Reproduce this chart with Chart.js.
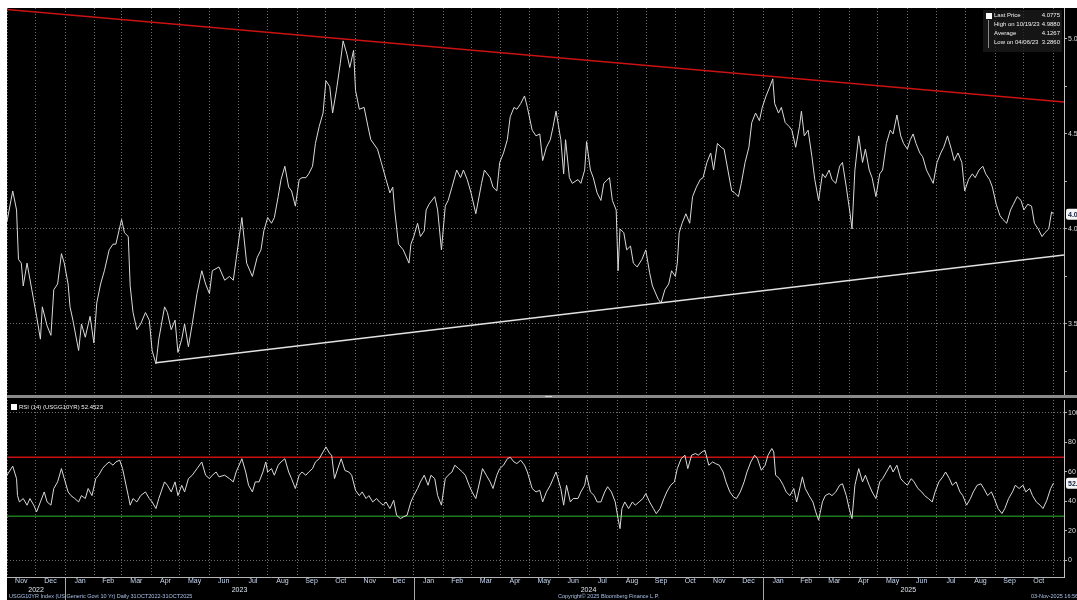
<!DOCTYPE html>
<html>
<head>
<meta charset="utf-8">
<script src="https://cdn.jsdelivr.net/npm/chart.js@4.4.1/dist/chart.umd.min.js"></script>
<style>
  html, body { margin: 0; padding: 0; background: #fff; overflow: hidden; }
  body { width: 1077px; height: 600px; position: relative; font-family: "Liberation Sans", Arial, sans-serif; }
  #panel { position: absolute; left: 7px; top: 8px; width: 1070px; height: 592px; background: #000; }
  #priceWrap { position: absolute; left: 7px; top: 8px; }
  #rsiWrap { position: absolute; left: 7px; top: 398px; }
  #sep { position: absolute; left: 7px; top: 395px; width: 1070px; height: 3px; background: #8a8a8a; }
  #sepHandle { position: absolute; left: 545px; top: 396px; width: 7px; height: 1px; background: #d0d0d0; }
  .legend { position: absolute; left: 983px; top: 10px; width: 79px; height: 42px; background: rgba(28,28,28,0.75); color: #f0f0f0; font-size: 6px; line-height: 9px; font-family: "Liberation Sans Narrow", "Liberation Sans", Arial, sans-serif; }
  .legend .row { position: absolute; left: 11px; right: 2px; white-space: nowrap; }
  .legend .val { position: absolute; right: 0; }
  .legend .sq { position: absolute; left: 3px; top: 3px; width: 6px; height: 6px; background: #fff; }
  .legend .tree { position: absolute; left: 5px; top: 10px; width: 1px; height: 28px; background: #888; }
  .rsiLegend { position: absolute; left: 11px; top: 404px; color: #f0f0f0; font-size: 6px; white-space: nowrap; font-family: "Liberation Sans Narrow", "Liberation Sans", Arial, sans-serif; }
  .rsiLegend span { display: inline-block; width: 6px; height: 6px; background: #fff; margin-right: 2px; vertical-align: -1px; }
  .foot { position: absolute; top: 593px; font-size: 5.5px; color: #a9c1e8; white-space: nowrap; }
</style>
</head>
<body>
<div id="panel"></div>
<div id="priceWrap"><canvas id="priceChart" width="1090" height="387"></canvas></div>
<div id="sep"></div>
<div id="sepHandle"></div>
<div id="rsiWrap"><canvas id="rsiChart" width="1090" height="202"></canvas></div>

<div class="legend">
  <div class="sq"></div>
  <div class="tree"></div>
  <div class="row" style="top:1px">Last Price<span class="val">4.0775</span></div>
  <div class="row" style="top:10px">High on 10/19/23<span class="val">4.9880</span></div>
  <div class="row" style="top:19px">Average<span class="val">4.1267</span></div>
  <div class="row" style="top:28px">Low on 04/06/23<span class="val">3.2860</span></div>
</div>
<div class="rsiLegend"><span></span>RSI (14) (USGG10YR) 52.4523</div>

<div class="foot" style="left:9px">USGG10YR Index (US Generic Govt 10 Yr) Daily 31OCT2022-31OCT2025</div>
<div class="foot" style="left:558px">Copyright© 2025 Bloomberg Finance L.P.</div>
<div class="foot" style="left:1031px">03-Nov-2025 16:56:01</div>

<script>
// Days are counted from 1 Nov 2022
const monthStart = [0, 30, 61, 92, 120, 151, 181, 212, 242, 273, 304, 334,
    365, 395, 426, 457, 486, 517, 547, 578, 608, 639, 670, 700,
    731, 761, 792, 823, 851, 882, 912, 943, 973, 1004, 1035, 1065, 1096];
const monthLabel = ['Nov', 'Dec', 'Jan', 'Feb', 'Mar', 'Apr', 'May', 'Jun', 'Jul', 'Aug', 'Sep', 'Oct',
    'Nov', 'Dec', 'Jan', 'Feb', 'Mar', 'Apr', 'May', 'Jun', 'Jul', 'Aug', 'Sep', 'Oct',
    'Nov', 'Dec', 'Jan', 'Feb', 'Mar', 'Apr', 'May', 'Jun', 'Jul', 'Aug', 'Sep', 'Oct'];
const yearLabel = ['2022', '2023', '2024', '2025'];
const yearStart = [0, 61, 426, 792];
const lastDay = 1096;

const priceTicks = [3.25, 3.5, 3.75, 4.0, 4.25, 4.5, 4.75, 5.0];
const priceMajor = [3.5, 4.0, 4.5, 5.0];
const priceGrid = [3.5, 4.0];
const rsiTicks = [0, 20, 40, 60, 80, 100];
const rsiGrid = [0, 100];

// US 10Y yield
const priceDay = [0, 6, 10, 12, 15, 17, 21, 26, 31, 35, 37, 42, 46, 49, 53, 57, 60, 64, 66, 69,
    75, 78, 82, 87, 91, 94, 98, 102, 107, 111, 114, 120, 123, 127, 129, 132, 136, 140, 145, 149,
    152, 156, 159, 165, 168, 172, 176, 179, 183, 186, 190, 194, 199, 204, 208, 212, 215, 222, 228, 233,
    237, 240, 246, 251, 257, 262, 266, 269, 273, 277, 280, 284, 287, 291, 295, 298, 302, 306, 309, 313,
    316, 320, 323, 327, 331, 334, 338, 341, 345, 349, 352, 356, 359, 363, 365, 369, 374, 378, 381, 388,
    392, 397, 401, 404, 406, 410, 415, 421, 423, 426, 430, 433, 437, 439, 442, 448, 451, 455, 459, 462,
    466, 471, 475, 478, 482, 486, 491, 497, 500, 506, 509, 513, 516, 520, 524, 527, 531, 534, 538, 542,
    545, 550, 554, 558, 561, 565, 569, 572, 575, 580, 583, 585, 589, 592, 598, 601, 605, 607, 611, 614,
    618, 622, 625, 631, 634, 638, 640, 642, 646, 649, 653, 656, 660, 665, 669, 673, 676, 682, 685, 689,
    693, 696, 700, 702, 704, 707, 711, 715, 718, 722, 726, 729, 733, 737, 740, 744, 748, 751, 755, 759,
    762, 766, 769, 773, 777, 780, 784, 788, 791, 795, 799, 802, 804, 808, 811, 815, 819, 822, 826, 830,
    832, 835, 839, 843, 846, 850, 854, 857, 861, 864, 868, 872, 875, 879, 883, 885, 888, 892, 896, 899,
    903, 906, 910, 914, 917, 921, 925, 928, 932, 936, 939, 943, 946, 949, 952, 956, 959, 963, 967, 970,
    974, 978, 981, 985, 989, 992, 996, 1000, 1003, 1007, 1011, 1014, 1018, 1022, 1025, 1029, 1032, 1036, 1040, 1043,
    1047, 1051, 1054, 1058, 1062, 1065, 1069, 1073, 1076, 1080, 1084, 1087, 1091, 1094, 1096];
const priceVal = [4.04, 4.20, 4.10, 3.84, 3.82, 3.70, 3.82, 3.68, 3.54, 3.42, 3.59, 3.49, 3.44, 3.68, 3.71, 3.87, 3.82, 3.71, 3.59, 3.52,
    3.36, 3.50, 3.43, 3.54, 3.40, 3.61, 3.71, 3.78, 3.89, 3.92, 3.92, 4.05, 3.98, 3.96, 3.70, 3.56, 3.47, 3.50, 3.56, 3.52,
    3.36, 3.29, 3.42, 3.59, 3.56, 3.47, 3.52, 3.35, 3.42, 3.50, 3.38, 3.50, 3.66, 3.78, 3.71, 3.66, 3.78, 3.80, 3.73, 3.75,
    3.73, 3.84, 4.06, 3.82, 3.75, 3.85, 3.89, 3.99, 4.06, 4.03, 4.06, 4.17, 4.26, 4.33, 4.22, 4.20, 4.12, 4.26, 4.27, 4.27,
    4.29, 4.33, 4.45, 4.54, 4.61, 4.78, 4.75, 4.61, 4.73, 4.87, 4.99, 4.92, 4.85, 4.94, 4.73, 4.63, 4.64, 4.54, 4.47, 4.42,
    4.35, 4.26, 4.19, 4.22, 4.10, 3.92, 3.89, 3.82, 3.92, 3.96, 4.03, 3.96, 3.99, 4.10, 4.13, 4.17, 4.10, 3.89, 4.12, 4.15,
    4.22, 4.31, 4.27, 4.31, 4.26, 4.19, 4.08, 4.24, 4.31, 4.27, 4.22, 4.20, 4.35, 4.40, 4.47, 4.59, 4.64, 4.63, 4.66, 4.70,
    4.64, 4.52, 4.49, 4.50, 4.36, 4.43, 4.47, 4.54, 4.62, 4.47, 4.29, 4.47, 4.27, 4.24, 4.26, 4.24, 4.31, 4.46, 4.31, 4.27,
    4.19, 4.15, 4.24, 4.27, 4.15, 4.10, 3.78, 4.00, 3.98, 3.89, 3.91, 3.82, 3.80, 3.84, 3.89, 3.77, 3.70, 3.63, 3.61, 3.68,
    3.71, 3.78, 3.75, 3.82, 3.98, 4.03, 4.08, 4.03, 4.17, 4.22, 4.26, 4.27, 4.35, 4.40, 4.31, 4.45, 4.43, 4.42, 4.31, 4.20,
    4.19, 4.17, 4.24, 4.35, 4.43, 4.56, 4.61, 4.57, 4.64, 4.70, 4.75, 4.79, 4.66, 4.61, 4.64, 4.56, 4.54, 4.52, 4.43, 4.54,
    4.62, 4.49, 4.52, 4.38, 4.26, 4.15, 4.29, 4.27, 4.31, 4.26, 4.24, 4.33, 4.35, 4.22, 4.08, 4.00, 4.31, 4.49, 4.35, 4.42,
    4.31, 4.27, 4.17, 4.29, 4.31, 4.45, 4.52, 4.50, 4.60, 4.49, 4.45, 4.42, 4.47, 4.50, 4.45, 4.40, 4.38, 4.31, 4.27, 4.24,
    4.35, 4.40, 4.43, 4.49, 4.42, 4.36, 4.40, 4.35, 4.20, 4.26, 4.29, 4.27, 4.31, 4.33, 4.29, 4.26, 4.22, 4.13, 4.07, 4.05,
    4.03, 4.10, 4.13, 4.17, 4.15, 4.10, 4.13, 4.12, 4.03, 4.00, 3.96, 3.98, 4.00, 4.09, 4.0775];

// trend lines drawn on the price panel
const resistDay = [0, 1107];
const resistVal = [5.155, 4.668];
const supportDay = [156, 1107];
const supportVal = [3.296, 3.863];

// RSI (14)
const rsiDay = [0, 6, 10, 11, 13, 17, 21, 24, 28, 31, 35, 39, 42, 46, 49, 53, 57, 60, 64, 67,
    71, 75, 78, 82, 85, 89, 93, 96, 100, 103, 107, 111, 114, 118, 121, 127, 129, 132, 136, 140,
    145, 149, 152, 156, 159, 165, 168, 172, 176, 179, 183, 186, 190, 194, 199, 204, 208, 212, 215, 219,
    222, 228, 233, 237, 240, 246, 250, 253, 257, 260, 264, 268, 271, 273, 277, 280, 284, 287, 291, 295,
    298, 302, 306, 309, 313, 316, 320, 323, 327, 331, 334, 338, 340, 343, 347, 350, 354, 358, 361, 365,
    369, 372, 376, 379, 383, 387, 390, 394, 397, 401, 405, 408, 412, 415, 419, 423, 426, 430, 433, 437,
    441, 444, 448, 451, 455, 459, 462, 466, 469, 473, 477, 480, 484, 487, 491, 495, 498, 502, 506, 509,
    513, 516, 520, 524, 527, 531, 534, 538, 542, 545, 550, 554, 558, 561, 565, 569, 572, 575, 580, 583,
    586, 590, 593, 598, 601, 605, 607, 611, 615, 618, 622, 626, 629, 633, 637, 640, 642, 644, 647, 651,
    655, 658, 662, 666, 669, 673, 677, 680, 684, 688, 691, 695, 699, 702, 706, 710, 713, 717, 721, 724,
    728, 731, 735, 739, 742, 746, 750, 753, 757, 761, 764, 768, 772, 775, 779, 783, 786, 790, 794, 797,
    801, 803, 805, 809, 813, 816, 820, 824, 827, 831, 833, 836, 840, 844, 847, 850, 854, 857, 861, 864,
    868, 872, 875, 879, 882, 885, 888, 892, 896, 899, 903, 906, 910, 914, 917, 921, 925, 928, 932, 936,
    939, 943, 947, 950, 954, 958, 961, 965, 969, 972, 976, 980, 983, 987, 990, 994, 998, 1001, 1005, 1009,
    1012, 1016, 1020, 1023, 1027, 1031, 1034, 1038, 1042, 1045, 1049, 1053, 1056, 1060, 1064, 1067, 1071, 1074, 1078, 1082,
    1085, 1089, 1093, 1096];
const rsiVal = [57.8, 64, 55.5, 44, 39.7, 42, 37.5, 42, 37.5, 33, 39.7, 46.5, 39.7, 37.5, 48.8, 53.3, 62.3, 55.5, 46.5, 44,
    42, 39.7, 44, 42, 48.8, 44, 55.5, 57.8, 62.3, 64.6, 66.8, 64.6, 66.8, 68, 62.3, 44, 37.5, 42, 39.7, 44,
    46.5, 42, 39.7, 35.2, 42, 53.3, 51, 46.5, 53.3, 44, 51, 46.5, 55.5, 57.8, 62.3, 66.8, 57.8, 55.5, 57.8, 60,
    56.7, 57.8, 55.5, 53.3, 60, 69, 60, 51, 46.5, 53.3, 53.3, 60, 66.8, 60, 62.3, 57.8, 64.6, 66.8, 69, 60,
    55.5, 48.8, 57.8, 60, 57.8, 60, 62.3, 66.8, 69, 73.6, 77, 72.5, 71.4, 55.5, 63.4, 69, 61, 60, 57.8, 47.6,
    44, 46.5, 42, 44, 39.7, 42, 39.7, 37.5, 39.7, 35.2, 40.8, 30.7, 28.4, 29.5, 30.7, 39.7, 44, 48.8, 53.3, 57.8,
    51, 57.8, 55.5, 44, 37.5, 55.5, 57.8, 60, 64.6, 62.3, 60, 57.8, 51, 46.5, 42, 53.3, 62.3, 57.8, 53.3, 48.8,
    57.8, 62.3, 64.6, 69, 70, 66.8, 65.7, 68, 64.6, 60, 48.8, 46.5, 47.6, 39.7, 46.5, 51, 55.5, 60, 48.8, 37.5,
    51, 39.7, 42, 42, 46.5, 51, 57.8, 46.5, 44, 39.7, 39.7, 46.5, 50, 46.5, 39.7, 28.4, 21.6, 35.2, 39.7, 35.2,
    39.7, 37.5, 39.7, 42, 45.4, 39.7, 35.2, 31.8, 35.2, 42, 46.5, 51, 53.3, 62.3, 69, 71.4, 62.3, 71.4, 72.5, 71.4,
    73.6, 74.7, 64.6, 66.8, 65.7, 64.6, 60, 53.3, 46.5, 43, 42, 46.5, 53.3, 60, 66.8, 71.4, 69, 61.2, 64.6, 71.4,
    75.9, 73.6, 57.8, 55.5, 51, 46.5, 44, 48.8, 39.7, 51, 56.7, 48.8, 44, 39.7, 33, 27.3, 39.7, 44, 45.4, 44,
    46.5, 51, 52, 44, 35.2, 28.4, 51, 62.3, 53.3, 57.8, 51, 46.5, 42, 53.3, 55.5, 60, 64.6, 60, 64.6, 55.5,
    53.3, 51, 55.5, 53.3, 48.8, 46.5, 44, 42, 39.7, 46.5, 53.3, 56.7, 60, 55.5, 51, 53.3, 46.5, 44, 37.5, 42,
    46.5, 51, 52, 48.8, 44, 46.5, 42, 35.2, 31.8, 35.2, 42, 46.5, 51, 48.8, 51, 46.5, 48.8, 44, 39.7, 37.5,
    35.2, 40.8, 48.8, 52.45];
const rsiLines = [70, 30];

const X_MIN = 0, X_MAX = 1107;

Chart.defaults.font.family = 'Liberation Sans, Arial, sans-serif';
Chart.defaults.font.size = 7;

function pts(days, vals) {
    return days.map((d, i) => ({ x: d, y: vals[i] }));
}

// dotted month grid shared by both panels
function monthGridAxis(showBorder) {
    return {
        type: 'linear', min: X_MIN, max: X_MAX, position: 'bottom', weight: 0,
        afterBuildTicks: s => { s.ticks = monthStart.map(v => ({ value: v })); },
        ticks: { display: false },
        grid: { color: '#6e6e6e', lineWidth: 1, drawTicks: false },
        border: { display: showBorder, color: '#b4b4b4', width: 1, dash: [1, 2] },
        afterFit: s => { s.height = 0; s.paddingLeft = 0; s.paddingRight = 0; }
    };
}

// white tag with the last value on the right axis
const lastValueBox = {
    id: 'lastValueBox',
    afterDraw(chart, args, opts) {
        if (!opts.text) return;
        const { ctx, chartArea } = chart;
        const y = chart.scales.y.getPixelForValue(opts.value);
        ctx.save();
        ctx.fillStyle = '#f4f4f4';
        ctx.beginPath();
        ctx.roundRect(chartArea.right + 2, y - 5.5, 26, 11, 2);
        ctx.fill();
        ctx.fillStyle = '#102040';
        ctx.font = 'bold 7px Liberation Sans, Arial';
        ctx.textBaseline = 'middle';
        ctx.fillText(opts.text, chartArea.right + 4, y + 0.5);
        ctx.restore();
    }
};

// solid year separators under the month row
const yearDividers = {
    id: 'yearDividers',
    afterDraw(chart) {
        const { ctx, chartArea, scales } = chart;
        ctx.save();
        ctx.strokeStyle = '#a8a8a8';
        ctx.lineWidth = 1;
        yearStart.slice(1).forEach(d => {
            const x = Math.round(scales.x.getPixelForValue(d)) + 0.5;
            ctx.beginPath();
            ctx.moveTo(x, chartArea.bottom);
            ctx.lineTo(x, chart.height);
            ctx.stroke();
        });
        ctx.restore();
    }
};

const commonOpts = {
    responsive: false,
    animation: false,
    events: [],
    plugins: { legend: { display: false }, tooltip: { enabled: false } },
    elements: { point: { radius: 0 }, line: { tension: 0 } }
};

// Price panel
new Chart(document.getElementById('priceChart'), {
    type: 'line',
    data: {
        datasets: [
            { data: pts(priceDay, priceVal), borderColor: '#dadada', borderWidth: 1 },
            { data: pts(resistDay, resistVal), borderColor: '#cc1212', borderWidth: 1.5 },
            { data: pts(supportDay, supportVal), borderColor: '#e2e2e2', borderWidth: 1.5 }
        ]
    },
    options: {
        ...commonOpts,
        layout: { padding: 0 },
        plugins: { ...commonOpts.plugins, lastValueBox: { value: priceVal[priceVal.length - 1], text: '4.08' } },
        scales: {
            x: monthGridAxis(false),
            y: {
                type: 'linear', position: 'right', min: 3.126, max: 5.163,
                afterBuildTicks: s => { s.ticks = priceTicks.map(v => ({ value: v })); },
                ticks: {
                    color: '#dcdcdc', padding: 1,
                    callback: v => priceMajor.includes(v) ? v.toFixed(1) : ''
                },
                grid: {
                    color: c => (c.tick && priceGrid.includes(c.tick.value)) ? '#6e6e6e' : 'transparent',
                    tickColor: '#b0b0b0', tickLength: 3
                },
                border: { display: true, color: '#c0c0c0', width: 1, dash: [1, 2] },
                afterFit: s => { s.width = 33; s.paddingTop = 0; s.paddingBottom = 0; }
            }
        }
    },
    plugins: [lastValueBox]
});

// RSI panel
const monthMid = monthLabel.map((m, i) => (monthStart[i] + monthStart[i + 1]) / 2);
const yearMid = yearLabel.map((y, i) => ((yearStart[i] + (yearStart[i + 1] ?? lastDay)) / 2));

new Chart(document.getElementById('rsiChart'), {
    type: 'line',
    data: {
        datasets: [
            { data: pts(rsiDay, rsiVal), borderColor: '#dadada', borderWidth: 1 },
            { data: pts([X_MIN, X_MAX], [rsiLines[0], rsiLines[0]]), borderColor: '#c81010', borderWidth: 1.5 },
            { data: pts([X_MIN, X_MAX], [rsiLines[1], rsiLines[1]]), borderColor: '#1f7a1f', borderWidth: 1.5 }
        ]
    },
    options: {
        ...commonOpts,
        layout: { padding: { top: 2, bottom: 5 } },
        plugins: { ...commonOpts.plugins, lastValueBox: { value: rsiVal[rsiVal.length - 1], text: '52.45' } },
        scales: {
            x: monthGridAxis(true),
            xm: {
                type: 'linear', min: X_MIN, max: X_MAX, position: 'bottom', weight: 1,
                afterBuildTicks: s => { s.ticks = monthMid.map(v => ({ value: v })); },
                ticks: { color: '#c9d8f2', padding: 0, autoSkip: false, maxRotation: 0,
                    callback: (v, i) => monthLabel[i] },
                grid: { display: false, drawTicks: false },
                border: { display: false },
                afterFit: s => { s.height = 9; s.paddingLeft = 0; s.paddingRight = 0; }
            },
            xy: {
                type: 'linear', min: X_MIN, max: X_MAX, position: 'bottom', weight: 2,
                afterBuildTicks: s => { s.ticks = yearMid.map(v => ({ value: v })); },
                ticks: { color: '#e0e6f2', padding: 0, autoSkip: false, maxRotation: 0,
                    callback: (v, i) => yearLabel[i] },
                grid: { display: false, drawTicks: false },
                border: { display: false },
                afterFit: s => { s.height = 9; s.paddingLeft = 0; s.paddingRight = 0; }
            },
            y: {
                type: 'linear', position: 'right', min: -11.19, max: 108.81,
                afterBuildTicks: s => { s.ticks = rsiTicks.map(v => ({ value: v })); },
                ticks: { color: '#dcdcdc', padding: 1, callback: v => String(v) },
                grid: {
                    color: c => (c.tick && rsiGrid.includes(c.tick.value)) ? '#6e6e6e' : 'transparent',
                    tickColor: '#b0b0b0', tickLength: 3
                },
                border: { display: true, color: '#c0c0c0', width: 1, dash: [1, 2] },
                afterFit: s => { s.width = 33; s.paddingTop = 0; s.paddingBottom = 0; }
            }
        }
    },
    plugins: [lastValueBox, yearDividers]
});
</script>
</body>
</html>
